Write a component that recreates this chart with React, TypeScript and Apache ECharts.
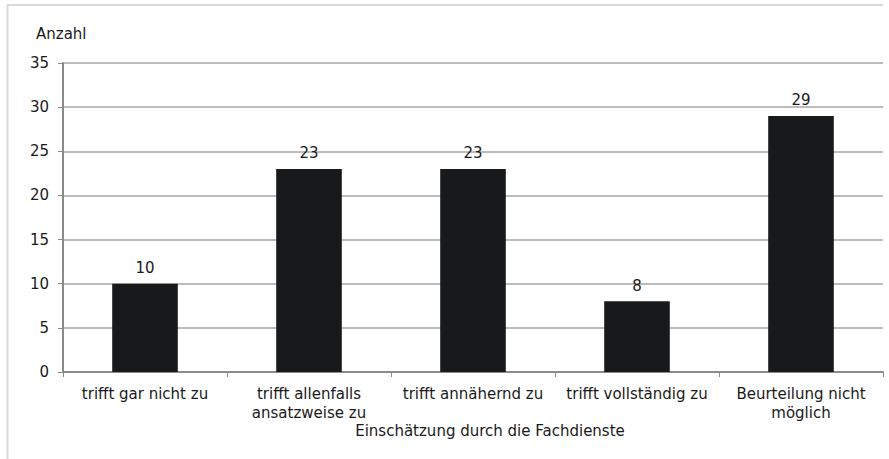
import React, { useEffect, useRef } from "react";
import * as echarts from "echarts";

const categories = [
  "trifft gar nicht zu",
  "trifft allenfalls\nansatzweise zu",
  "trifft annähernd zu",
  "trifft vollständig zu",
  "Beurteilung nicht\nmöglich",
];
const values = [10, 23, 23, 8, 29];
const yAxisTitle = "Anzahl";
const xAxisTitle = "Einschätzung durch die Fachdienste";

const FONT = "'DejaVu Sans', 'Noto Sans', sans-serif";
const TEXT = "#1a1a1a";
const FS = 15;

export default function App() {
  const ref = useRef<HTMLDivElement>(null);
  useEffect(() => {
    if (!ref.current) return;
    const chart = echarts.init(ref.current, undefined, { renderer: "svg" });
    chart.setOption({
      animation: false,
      backgroundColor: "#ffffff",
      textStyle: { fontFamily: FONT },
      grid: { left: 63, right: 6, top: 63, bottom: 87 },
      graphic: [
        {
          type: "line",
          shape: { x1: 7, y1: 5, x2: 883, y2: 5 },
          style: { stroke: "#d9d9d9", lineWidth: 2 },
        },
        {
          type: "line",
          shape: { x1: 7.5, y1: 5, x2: 7.5, y2: 459 },
          style: { stroke: "#d9d9d9", lineWidth: 2 },
        },
        {
          type: "text",
          x: 36,
          y: 34,
          style: { text: yAxisTitle, fill: TEXT, font: `${FS}px ${FONT}`, verticalAlign: "middle" },
        },
        {
          type: "text",
          x: 490,
          y: 431,
          style: {
            text: xAxisTitle,
            fill: TEXT,
            font: `${FS}px ${FONT}`,
            align: "center",
            verticalAlign: "middle",
          },
        },
      ],
      xAxis: {
        type: "category",
        data: categories,
        axisLine: { lineStyle: { color: "#8a8a8a", width: 2 } },
        axisTick: { show: true, length: 5, lineStyle: { color: "#8a8a8a", width: 1 } },
        axisLabel: {
          color: TEXT,
          fontSize: FS,
          fontFamily: FONT,
          margin: 12,
          lineHeight: 19,
          interval: 0,
        },
      },
      yAxis: {
        type: "value",
        min: 0,
        max: 35,
        interval: 5,
        axisLine: { show: true, lineStyle: { color: "#8a8a8a", width: 2 } },
        axisTick: { show: true, length: 5, lineStyle: { color: "#8a8a8a", width: 1 } },
        axisLabel: { color: TEXT, fontSize: FS, fontFamily: FONT, margin: 14 },
        splitLine: { lineStyle: { color: "#a6a6a6", width: 1.5 } },
      },
      series: [
        {
          type: "bar",
          data: values,
          barWidth: "40%",
          itemStyle: { color: "#18191b" },
          label: {
            show: true,
            position: "top",
            distance: 8,
            color: TEXT,
            fontSize: FS,
            fontFamily: FONT,
          },
        },
      ],
    });
    return () => chart.dispose();
  }, []);
  return <div ref={ref} style={{ width: 889, height: 459, position: "absolute", left: 0, top: 0 }} />;
}
